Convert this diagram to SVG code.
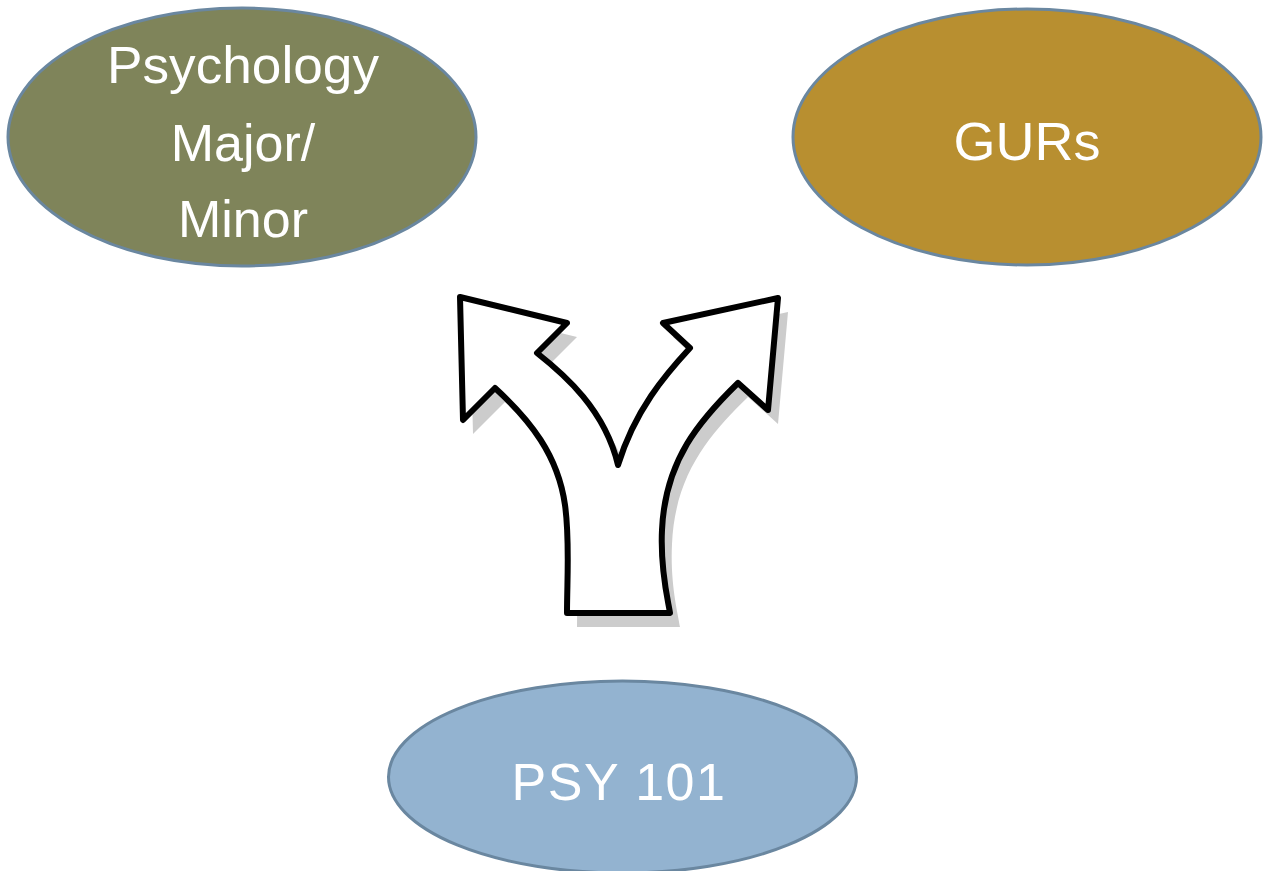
<svg xmlns="http://www.w3.org/2000/svg" width="1270" height="871" viewBox="0 0 1270 871">
<style>
.node{stroke:#6a87a0;stroke-width:3}
.lbl{font-family:"Liberation Sans","DejaVu Sans",sans-serif;fill:#ffffff;text-anchor:middle}
</style>
<defs>
<path id="fork" d="M460,297 L567,323 L537,353 C565,375 605,410 618,465 C635,410 665,375 690,348 L663,323 L778,298 L768,410 L738,383 C700,420 665,460 662,530 C660,570 668,600 670,613 L567,613 C567,580 570,540 565,505 C558,455 530,420 495,388 L463,420 Z"/>
</defs>
<rect width="1270" height="871" fill="#ffffff"/>
<g id="node-psych">
<ellipse class="node" cx="242" cy="137" rx="234" ry="129" fill="#7f845a"/>
<text class="lbl" font-size="52"><tspan x="243" y="83" textLength="272" lengthAdjust="spacingAndGlyphs">Psychology</tspan><tspan x="243" y="161">Major/</tspan><tspan x="243" y="237">Minor</tspan></text>
</g>
<g id="node-gurs">
<ellipse class="node" cx="1027" cy="137" rx="234" ry="128" fill="#b88f30"/>
<text class="lbl" font-size="54" x="1027" y="160">GURs</text>
</g>
<g id="node-psy101">
<ellipse class="node" cx="622.5" cy="777" rx="234" ry="96" fill="#93b3d0"/>
<text class="lbl" font-size="52" x="619" y="800" letter-spacing="1.5">PSY 101</text>
</g>
<g id="connectors">
<use href="#fork" transform="translate(10,14)" fill="#cccccc"/>
<use href="#fork" fill="#ffffff" stroke="#000000" stroke-width="6" stroke-linejoin="round"/>
</g>
</svg>
